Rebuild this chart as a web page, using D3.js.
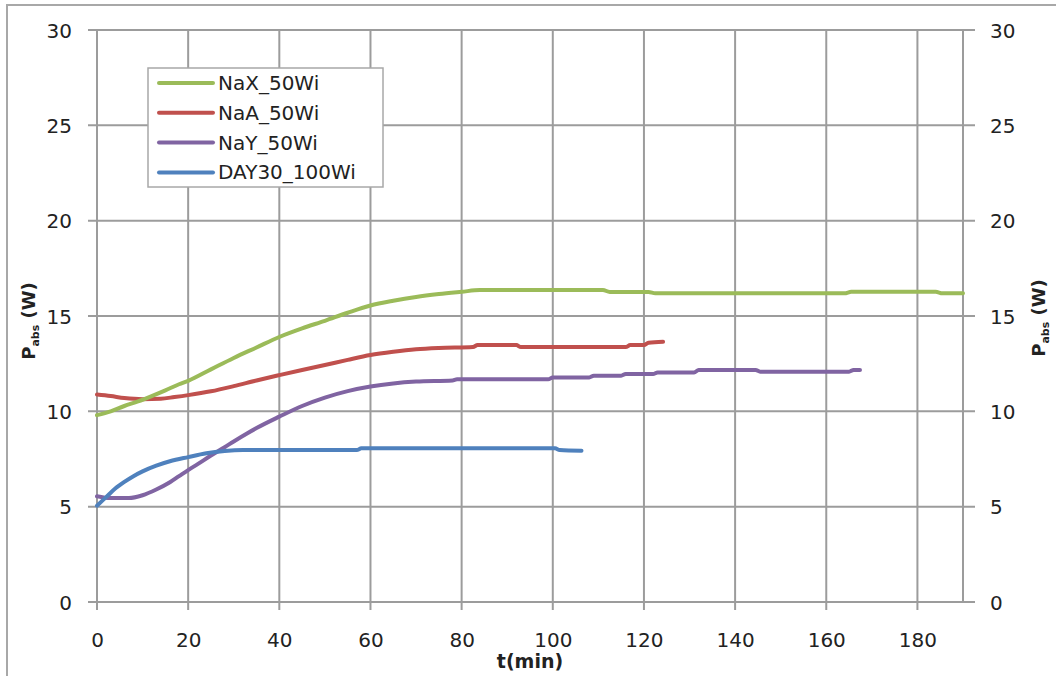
<!DOCTYPE html>
<html>
<head>
<meta charset="utf-8">
<script src="https://cdn.jsdelivr.net/npm/d3@7"></script>
<style>
  html, body { margin: 0; padding: 0; background: #fff; }
  svg { display: block; }
  text { font-family: "DejaVu Sans", sans-serif; fill: #222; }
</style>
</head>
<body>
<svg id="chart" width="1056" height="676"></svg>
<script>
// ---- data ----
const seriesNames = ["NaX_50Wi", "NaA_50Wi", "NaY_50Wi", "DAY30_100Wi"];
const seriesColors = ["#9bbb59", "#c0504d", "#8064a2", "#4f81bd"];

const naxT = [0,3,6,9,12,15,18,20,25,30,35,40,45,50,55,60,65,70,75,80,84,90,100,111,112.5,121,122.5,164,165.5,184,185.5,190];
const naxV = [9.8,10.0,10.28,10.52,10.8,11.1,11.42,11.6,12.2,12.8,13.35,13.9,14.35,14.75,15.17,15.55,15.8,16.0,16.15,16.27,16.36,16.37,16.37,16.36,16.26,16.26,16.19,16.19,16.27,16.27,16.19,16.19];

const naaT = [0,3,6,10,14,17,20,25,30,35,40,45,50,55,60,65,70,75,82.5,83.5,92,93,116,117,120,121,124.2];
const naaV = [10.88,10.8,10.7,10.64,10.66,10.75,10.85,11.05,11.32,11.62,11.9,12.17,12.43,12.7,12.95,13.12,13.25,13.32,13.37,13.48,13.48,13.37,13.37,13.48,13.48,13.6,13.65];

const nayT = [0,3,7,10,13,16,18,20,22,25,28,30,33,35,40,45,50,55,60,65,70,78,79,99,100,108,109,115,116,122,123,131,132,144.5,145.5,165,166,167.4];
const nayV = [5.55,5.45,5.45,5.6,5.9,6.28,6.6,6.92,7.22,7.68,8.12,8.42,8.85,9.12,9.72,10.28,10.72,11.06,11.3,11.46,11.56,11.62,11.68,11.68,11.78,11.78,11.87,11.87,11.96,11.96,12.04,12.04,12.17,12.17,12.08,12.08,12.17,12.17];

const dayT = [0,2,4,6,8,10,13,16,20,24,28,32,57,58,100.5,101.5,106.3];
const dayV = [5.05,5.5,5.95,6.3,6.6,6.85,7.15,7.38,7.6,7.8,7.92,7.97,7.97,8.06,8.06,7.97,7.93];

const xTicks = [0,20,40,60,80,100,120,140,160,180];
const yTicks = [0,5,10,15,20,25,30];
const xDomain = [0,190];
const yDomain = [0,30];

// ---- drawing ----
const svg = d3.select("#chart");
const L = 97, R = 963, T = 30, B = 602;
const x = d3.scaleLinear().domain(xDomain).range([L, R]);
const y = d3.scaleLinear().domain(yDomain).range([B, T]);
const grid = "#9c9c9c";

// outer chart frame
svg.append("rect").attr("x", 7).attr("y", 5).attr("width", 1100).attr("height", 700)
  .attr("fill", "none").attr("stroke", "#a8a8a8").attr("stroke-width", 2);

// horizontal gridlines (extend out as ticks on both sides)
svg.append("g").selectAll("line").data(yTicks).join("line")
  .attr("x1", L - 9).attr("x2", R + 12)
  .attr("y1", d => y(d)).attr("y2", d => y(d))
  .attr("stroke", grid).attr("stroke-width", 2);

// vertical gridlines (extend below as ticks)
svg.append("g").selectAll("line").data(xTicks).join("line")
  .attr("x1", d => x(d)).attr("x2", d => x(d))
  .attr("y1", T).attr("y2", B + 8)
  .attr("stroke", grid).attr("stroke-width", 2);

// right border of plot
svg.append("line").attr("x1", x(190)).attr("x2", x(190)).attr("y1", T).attr("y2", B)
  .attr("stroke", grid).attr("stroke-width", 2);

// axes (labels only; lines drawn above)
const axL = svg.append("g").attr("transform", `translate(${L},0)`)
  .call(d3.axisLeft(y).tickValues(yTicks).tickSize(0).tickPadding(25));
const axR = svg.append("g").attr("transform", `translate(${R},0)`)
  .call(d3.axisRight(y).tickValues(yTicks).tickSize(0).tickPadding(27));
const axB = svg.append("g").attr("transform", `translate(0,${B})`)
  .call(d3.axisBottom(x).tickValues(xTicks).tickSize(0));
[axL, axR, axB].forEach(a => {
  a.select(".domain").remove();
  a.selectAll("text").attr("font-family", "DejaVu Sans").attr("font-size", 20).attr("fill", "#222");
});
axL.selectAll("text").attr("dy", "0.35em");
axR.selectAll("text").attr("dy", "0.35em");
axB.selectAll("text").attr("y", 45).attr("dy", 0);

// series
const series = [
  {t: naxT, v: naxV},
  {t: naaT, v: naaV},
  {t: nayT, v: nayV},
  {t: dayT, v: dayV}
];
const line = d3.line().x(d => x(d[0])).y(d => y(d[1])).curve(d3.curveMonotoneX);
[2, 1, 0, 3].forEach(i => {
  const pts = series[i].t.map((t, k) => [t, series[i].v[k]]);
  svg.append("path").datum(pts).attr("d", line)
    .attr("fill", "none").attr("stroke", seriesColors[i])
    .attr("stroke-width", 4).attr("stroke-linecap", "round").attr("stroke-linejoin", "round");
});

// legend
const lg = svg.append("g");
lg.append("rect").attr("x", 148).attr("y", 68).attr("width", 235).attr("height", 119)
  .attr("fill", "#fff").attr("stroke", "#a8a8a8").attr("stroke-width", 1.5);
seriesNames.forEach((n, i) => {
  const cy = 83 + i * 29.8;
  lg.append("line").attr("x1", 159).attr("x2", 213).attr("y1", cy).attr("y2", cy)
    .attr("stroke", seriesColors[i]).attr("stroke-width", 4).attr("stroke-linecap", "round");
  lg.append("text").attr("x", 218).attr("y", cy + 7).attr("font-size", 20).text(n);
});

// axis titles
svg.append("text").attr("x", 530).attr("y", 668).attr("text-anchor", "middle")
  .attr("font-size", 19).attr("font-weight", "bold").text("t(min)");

function yTitle(cx, cy) {
  const t = svg.append("text").attr("transform", `translate(${cx},${cy}) rotate(-90)`)
    .attr("text-anchor", "middle").attr("font-size", 18).attr("font-weight", "bold");
  t.append("tspan").text("P");
  t.append("tspan").attr("font-size", 11).attr("dy", 4).text("abs");
  t.append("tspan").attr("dy", -4).text(" (W)");
}
yTitle(35, 321);
yTitle(1045, 318);
</script>
</body>
</html>
